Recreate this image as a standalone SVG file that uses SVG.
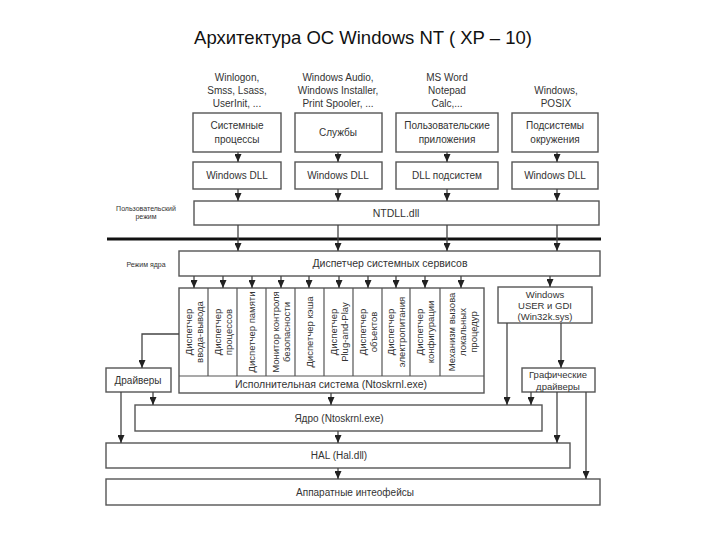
<svg xmlns="http://www.w3.org/2000/svg" width="720" height="540" viewBox="0 0 720 540">
<style>
text{font-family:"Liberation Sans","Open Sans",sans-serif;fill:#333;}
.t{font-size:10px;text-anchor:middle;}
.c{font-size:9.5px;text-anchor:middle;}
.s{font-size:7px;text-anchor:middle;}
.b{fill:#fff;stroke:#555;stroke-width:1.4;}
.l{fill:none;stroke:#555;stroke-width:1.2;}
.e{fill:none;stroke:#444;stroke-width:1.3;marker-end:url(#ah);}
</style>
<defs>
<marker id="ah" markerWidth="8" markerHeight="7" refX="8" refY="3.5" orient="auto" markerUnits="userSpaceOnUse" viewBox="0 0 8 7">
<path d="M0,0 L8,3.5 L0,7 Z" fill="#222"/>
</marker>
</defs>
<rect width="720" height="540" fill="#fff"/>
<text x="363" y="44" style="font-size:18.5px;text-anchor:middle;fill:#111">Архитектура ОС Windows NT ( XP – 10)</text>

<g id="lbl-top">
<text class="t" x="237" y="81">Winlogon,</text>
<text class="t" x="237" y="94">Smss, Lsass,</text>
<text class="t" x="237" y="107">UserInit, ...</text>
<text class="t" x="338" y="81">Windows Audio,</text>
<text class="t" x="338" y="94">Windows Installer,</text>
<text class="t" x="338" y="107">Print Spooler, ...</text>
<text class="t" x="447" y="81">MS Word</text>
<text class="t" x="447" y="94">Notepad</text>
<text class="t" x="447" y="107">Calc,...</text>
<text class="t" x="556" y="94">Windows,</text>
<text class="t" x="556" y="107">POSIX</text>
</g>

<g id="sysproc"><rect class="b" x="193" y="113" width="88" height="39"/><text class="t" x="237" y="129">Системные</text><text class="t" x="237" y="143">процессы</text></g>
<g id="services"><rect class="b" x="295" y="113" width="87" height="39"/><text class="t" x="338" y="136">Службы</text></g>
<g id="userapps"><rect class="b" x="396" y="113" width="102" height="39"/><text class="t" x="447" y="129">Пользовательские</text><text class="t" x="447" y="143">приложения</text></g>
<g id="envsub"><rect class="b" x="512" y="113" width="86" height="39"/><text class="t" x="555" y="129">Подсистемы</text><text class="t" x="555" y="143">окружения</text></g>

<g id="dll1"><rect class="b" x="193" y="162" width="88" height="27"/><text class="t" x="237" y="179">Windows DLL</text></g>
<g id="dll2"><rect class="b" x="295" y="162" width="87" height="27"/><text class="t" x="338" y="179">Windows DLL</text></g>
<g id="dll3"><rect class="b" x="396" y="162" width="102" height="27"/><text class="t" x="447" y="179">DLL подсистем</text></g>
<g id="dll4"><rect class="b" x="512" y="162" width="86" height="27"/><text class="t" x="555" y="179">Windows DLL</text></g>

<g id="usermode"><text class="s" x="146" y="211">Пользовательский</text><text class="s" x="146" y="219">режим</text></g>
<g id="ntdll"><rect class="b" x="194" y="201" width="405" height="24"/><text class="t" x="396" y="217" style="font-size:10.5px">NTDLL.dll</text></g>
<line x1="107" y1="239" x2="601" y2="239" stroke="#111" stroke-width="3"/>
<g id="kernelmode"><text class="s" x="146" y="267">Режим ядра</text></g>
<g id="dispatcher"><rect class="b" x="179" y="251" width="421" height="25"/><text class="t" x="390" y="267" style="font-size:10.5px">Диспетчер системных сервисов</text></g>

<g id="executive">
<rect class="b" x="179" y="288" width="305" height="105"/>
<path class="l" d="M179,376 H484 M208,288 V376 M237,288 V376 M266,288 V376 M295,288 V376 M324,288 V376 M353,288 V376 M382,288 V376 M410,288 V376 M440,288 V376"/>
<text class="t" x="331" y="388" style="font-size:10.5px">Исполнительная система (Ntoskrnl.exe)</text>
<g transform="translate(193.5,332) rotate(-90)"><text class="c" y="-2">Диспетчер</text><text class="c" y="9">ввода-вывода</text></g>
<g transform="translate(222.5,332) rotate(-90)"><text class="c" y="-2">Диспетчер</text><text class="c" y="9">процессов</text></g>
<g transform="translate(251.5,332) rotate(-90)"><text class="c" y="3.5">Диспетчер памяти</text></g>
<g transform="translate(280.5,332) rotate(-90)"><text class="c" y="-2">Монитор контроля</text><text class="c" y="9">безопасности</text></g>
<g transform="translate(309.5,332) rotate(-90)"><text class="c" y="3.5">Диспетчер кэша</text></g>
<g transform="translate(338.5,332) rotate(-90)"><text class="c" y="-2">Диспетчер</text><text class="c" y="9">Plug-and-Play</text></g>
<g transform="translate(367.5,332) rotate(-90)"><text class="c" y="-2">Диспетчер</text><text class="c" y="9">объектов</text></g>
<g transform="translate(396,332) rotate(-90)"><text class="c" y="-2">Диспетчер</text><text class="c" y="9">электропитания</text></g>
<g transform="translate(425,332) rotate(-90)"><text class="c" y="-2">Диспетчер</text><text class="c" y="9">конфигурации</text></g>
<g transform="translate(462,332) rotate(-90)"><text class="c" y="-7.5">Механизм вызова</text><text class="c" y="3.5">локальных</text><text class="c" y="14.5">процедур</text></g>
</g>

<g id="win32k"><rect class="b" x="498" y="287" width="94" height="36"/><text class="t" x="545" y="298" style="font-size:9.5px">Windows</text><text class="t" x="545" y="309" style="font-size:9.5px">USER и GDI</text><text class="t" x="545" y="320" style="font-size:9.5px">(Win32k.sys)</text></g>
<g id="gdrivers"><rect class="b" x="522" y="368" width="73" height="24"/><text class="t" x="558" y="378" style="font-size:9.5px">Графические</text><text class="t" x="558" y="389.5" style="font-size:9.5px">драйверы</text></g>
<g id="drivers"><rect class="b" x="106" y="368" width="65" height="24"/><text class="t" x="138" y="384">Драйверы</text></g>
<g id="kernel"><rect class="b" x="135" y="405" width="407" height="26"/><text class="t" x="339" y="422">Ядро (Ntoskrnl.exe)</text></g>
<g id="hal"><rect class="b" x="106" y="443" width="464" height="25"/><text class="t" x="339" y="459">HAL (Hal.dll)</text></g>
<g id="hw"><rect class="b" x="106" y="479" width="494" height="26"/><text class="t" x="355" y="496">Аппаратные интеофейсы</text></g>

<g id="connectors">
<path class="e" d="M238,152 V162"/><path class="e" d="M338,152 V162"/><path class="e" d="M447,152 V162"/><path class="e" d="M557,152 V162"/>
<path class="e" d="M238,189 V201"/><path class="e" d="M338,189 V201"/><path class="e" d="M447,189 V201"/><path class="e" d="M557,189 V201"/>
<path class="e" d="M238,225 V251"/><path class="e" d="M338,225 V251"/><path class="e" d="M447,225 V251"/><path class="e" d="M557,225 V251"/>
<path class="e" d="M194,276 V288"/><path class="e" d="M223,276 V288"/><path class="e" d="M252,276 V288"/><path class="e" d="M281,276 V288"/><path class="e" d="M309,276 V288"/><path class="e" d="M339,276 V288"/><path class="e" d="M368,276 V288"/><path class="e" d="M396,276 V288"/><path class="e" d="M425,276 V288"/><path class="e" d="M461,276 V288"/><path class="e" d="M550,276 V287"/>
<path class="e" d="M179,334 H142 V368"/>
<path class="e" d="M153,392 V405"/>
<path class="e" d="M121,392 V443"/>
<path class="e" d="M331,393 V405"/>
<path class="e" d="M507,323 V405"/>
<path class="e" d="M561,323 V368"/>
<path class="e" d="M531,392 V405"/>
<path class="e" d="M557,392 V443"/>
<path class="e" d="M586,392 V479"/>
<path class="e" d="M338,431 V443"/>
<path class="e" d="M338,468 V479"/>
</g>
</svg>
